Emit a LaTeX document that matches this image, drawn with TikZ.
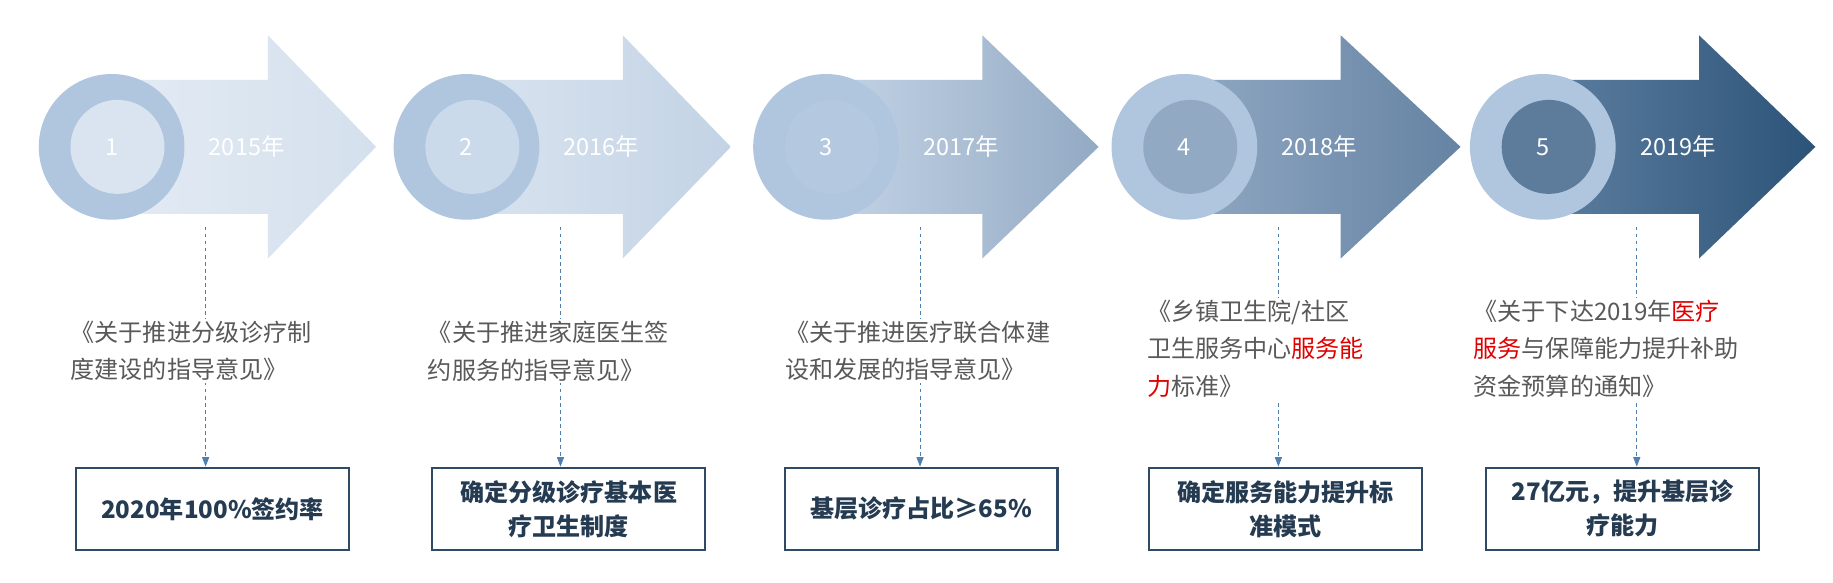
\documentclass[tikz,border=0pt]{standalone}
\usepackage{fontspec}
\setmainfont{Noto Sans CJK SC}
\usetikzlibrary{arrows.meta}
\definecolor{ring}{HTML}{B0C6DF}
\definecolor{dtext}{HTML}{595959}
\definecolor{lnc}{HTML}{4F7FB0}
\definecolor{boxc}{HTML}{2F4A66}
\definecolor{redc}{HTML}{E00000}
\definecolor{s1}{HTML}{E3EBF4}\definecolor{e1}{HTML}{D4E0ED}\definecolor{i1}{HTML}{D9E4F0}
\definecolor{s2}{HTML}{D8E3EF}\definecolor{e2}{HTML}{C3D3E5}\definecolor{i2}{HTML}{CBDAEA}
\definecolor{s3}{HTML}{C3D3E5}\definecolor{e3}{HTML}{93AAC4}\definecolor{i3}{HTML}{B4C8DF}
\definecolor{s4}{HTML}{8FA7C2}\definecolor{e4}{HTML}{6583A3}\definecolor{i4}{HTML}{91A9C3}
\definecolor{s5}{HTML}{5C7EA0}\definecolor{e5}{HTML}{2C5378}\definecolor{i5}{HTML}{5D7B9B}
\tikzset{
 desc/.style={anchor=north west,align=left,text=dtext,font=\fontsize{20.5}{32}\selectfont,fill=white,inner sep=2pt},
 res/.style={draw=boxc,line width=1.8pt,minimum width=232,minimum height=70,align=center,font=\bfseries\fontsize{20.5}{29}\selectfont,text=boxc!80!black},
 conn/.style={lnc,dashed,line width=0.6pt,-{Triangle[width=6pt,length=8pt]}},
 num/.style={text=white,font=\fontsize{20}{22}\selectfont},
}
\newcommand{\stage}[6]{% #1 x offset, #2 tip, #3 index, #4 num, #5 year, #6 name
 \shade[left color=s#3,right color=e#3] (#1+100,68) -- (#1+228,68) -- (#1+228,30) -- (#2,125) -- (#1+228,220) -- (#1+228,182) -- (#1+100,182) -- cycle;
 \fill[ring] (#1+95,125) circle (62);
 \fill[i#3] (#1+100,125) circle (40);
 \node[num] (n#6) at (#1+95,125) {#4};
 \node[num] (y#6) at (#1+210,125) {#5};
 \coordinate (c#6) at (#1+175,193);
}
\begin{document}
\begin{tikzpicture}[x=1pt,y=-1pt]
\useasboundingbox[fill=white] (0,0) rectangle (1560,496);
\stage{0}{320}{1}{1}{2015年}{a}
\stage{302}{622}{2}{2}{2016年}{b}
\stage{608}{935}{3}{3}{2017年}{c}
\stage{913}{1243}{4}{4}{2018年}{d}
\stage{1218}{1545}{5}{5}{2019年}{e}
% boxes
\node[res] (ra) at (181,433) {2020年100\%签约率};
\node[res] (rb) at (484,433) {确定分级诊疗基本医\\疗卫生制度};
\node[res] (rc) at (784,433) {基层诊疗占比≥65\%};
\node[res] (rd) at (1094,433) {确定服务能力提升标\\准模式};
\node[res] (re) at (1381,433) {27亿元，提升基层诊\\疗能力};
\draw[conn] (ca) -- (ca|-ra.north);
\draw[conn] (cb) -- (cb|-rb.north);
\draw[conn] (cc) -- (cc|-rc.north);
\draw[conn] (cd) -- (cd|-rd.north);
\draw[conn] (ce) -- (ce|-re.north);
% descriptions
\node[desc] (da) at (58,271) {《关于推进分级诊疗制\\度建设的指导意见》};
\node[desc] (db) at (362,271) {《关于推进家庭医生签\\约服务的指导意见》};
\node[desc] (dc) at (666,271) {《关于推进医疗联合体建\\设和发展的指导意见》};
\node[desc] (dd) at (974,253) {《乡镇卫生院/社区\\卫生服务中心\textcolor{redc}{服务能}\\\textcolor{redc}{力}标准》};
\node[desc] (de) at (1252,253) {《关于下达2019年\textcolor{redc}{医疗}\\\textcolor{redc}{服务}与保障能力提升补助\\资金预算的通知》};
\end{tikzpicture}
\end{document}
